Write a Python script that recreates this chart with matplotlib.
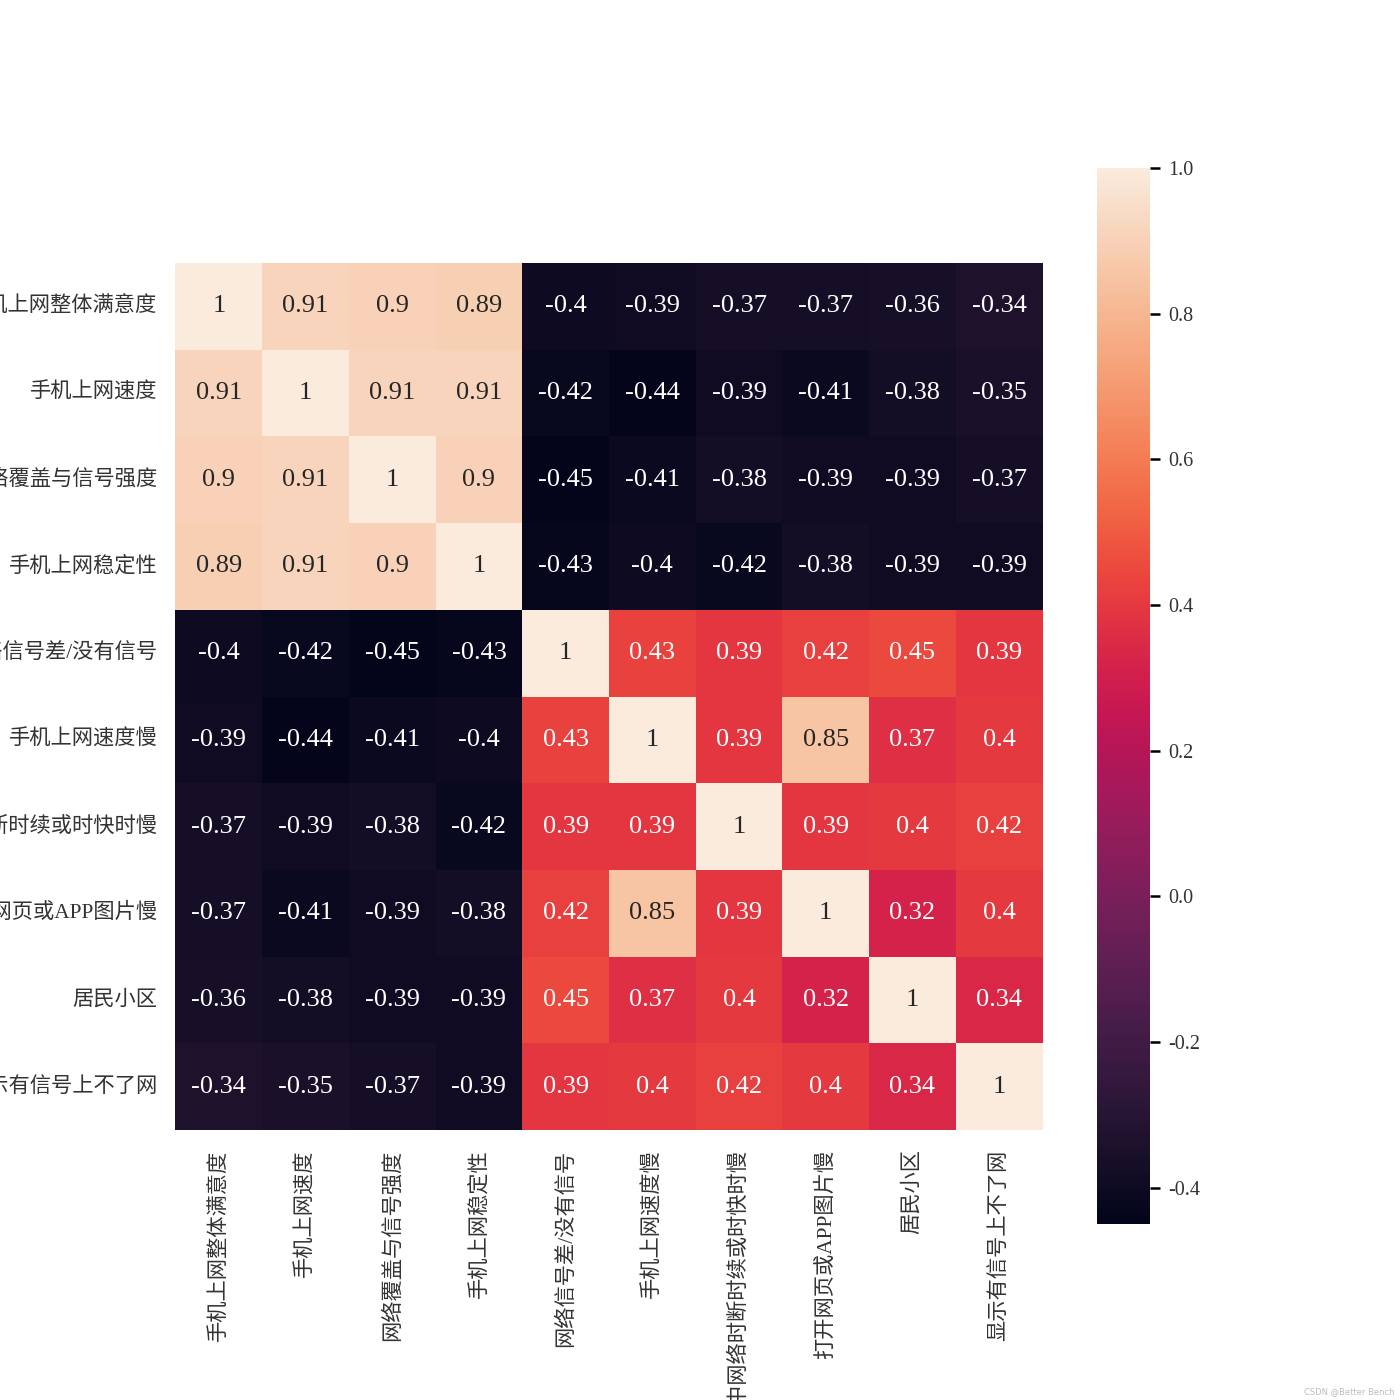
import numpy as np
import matplotlib
matplotlib.use("Agg")
import matplotlib.pyplot as plt
import seaborn as sns

labels = ["手机上网整体满意度", "手机上网速度", "网络覆盖与信号强度", "手机上网稳定性",
          "网络信号差/没有信号", "手机上网速度慢", "上网过程中网络时断时续或时快时慢",
          "打开网页或APP图片慢", "居民小区", "显示有信号上不了网"]

row1 = [1, 0.91, 0.9, 0.89, -0.4, -0.39, -0.37, -0.37, -0.36, -0.34]
row2 = [0.91, 1, 0.91, 0.91, -0.42, -0.44, -0.39, -0.41, -0.38, -0.35]
row3 = [0.9, 0.91, 1, 0.9, -0.45, -0.41, -0.38, -0.39, -0.39, -0.37]
row4 = [0.89, 0.91, 0.9, 1, -0.43, -0.4, -0.42, -0.38, -0.39, -0.39]
row5 = [-0.4, -0.42, -0.45, -0.43, 1, 0.43, 0.39, 0.42, 0.45, 0.39]
row6 = [-0.39, -0.44, -0.41, -0.4, 0.43, 1, 0.39, 0.85, 0.37, 0.4]
row7 = [-0.37, -0.39, -0.38, -0.42, 0.39, 0.39, 1, 0.39, 0.4, 0.42]
row8 = [-0.37, -0.41, -0.39, -0.38, 0.42, 0.85, 0.39, 1, 0.32, 0.4]
row9 = [-0.36, -0.38, -0.39, -0.39, 0.45, 0.37, 0.4, 0.32, 1, 0.34]
row10 = [-0.34, -0.35, -0.37, -0.39, 0.39, 0.4, 0.42, 0.4, 0.34, 1]

cbar_ticks = [-0.4, -0.2, 0.0, 0.2, 0.4, 0.6, 0.8, 1.0]

corr = np.array([row1, row2, row3, row4, row5, row6, row7, row8, row9, row10])

plt.rcParams['font.family'] = ['Liberation Serif', 'Noto Sans CJK SC', 'DejaVu Sans']
plt.rcParams['axes.unicode_minus'] = False

fig = plt.figure(figsize=(14, 14), dpi=100)
ax = fig.add_axes([175/1400, 1 - 1130/1400, 868/1400, 867/1400])
cax = fig.add_axes([1097/1400, 1 - 1224/1400, 53/1400, 1056/1400])

sns.heatmap(corr, annot=True, square=True, cmap="rocket", ax=ax, cbar_ax=cax,
            xticklabels=labels, yticklabels=labels,
            annot_kws={"fontsize": 19})
ax.set_position([175/1400, 1 - 1130/1400, 868/1400, 867/1400])

ax.tick_params(axis='both', length=0, labelsize=15.3, labelcolor='#333333')
ax.tick_params(axis='x', pad=14, labelrotation=90)
ax.tick_params(axis='y', pad=13, labelrotation=0)
for t in ax.get_yticklabels():
    t.set_ha('right')

cax.set_yticks(cbar_ticks)
cax.set_yticklabels([f"{v:.1f}" for v in cbar_ticks])
cax.tick_params(axis='y', length=7, width=1.8, pad=6, labelsize=14.5, labelcolor='#333333')

fig.text(0.996, 0.003, "CSDN @Better Bench", ha='right', va='bottom', fontsize=6,
         color='#bbbbbb', family='DejaVu Sans')

fig.savefig("out.png", dpi=100)
